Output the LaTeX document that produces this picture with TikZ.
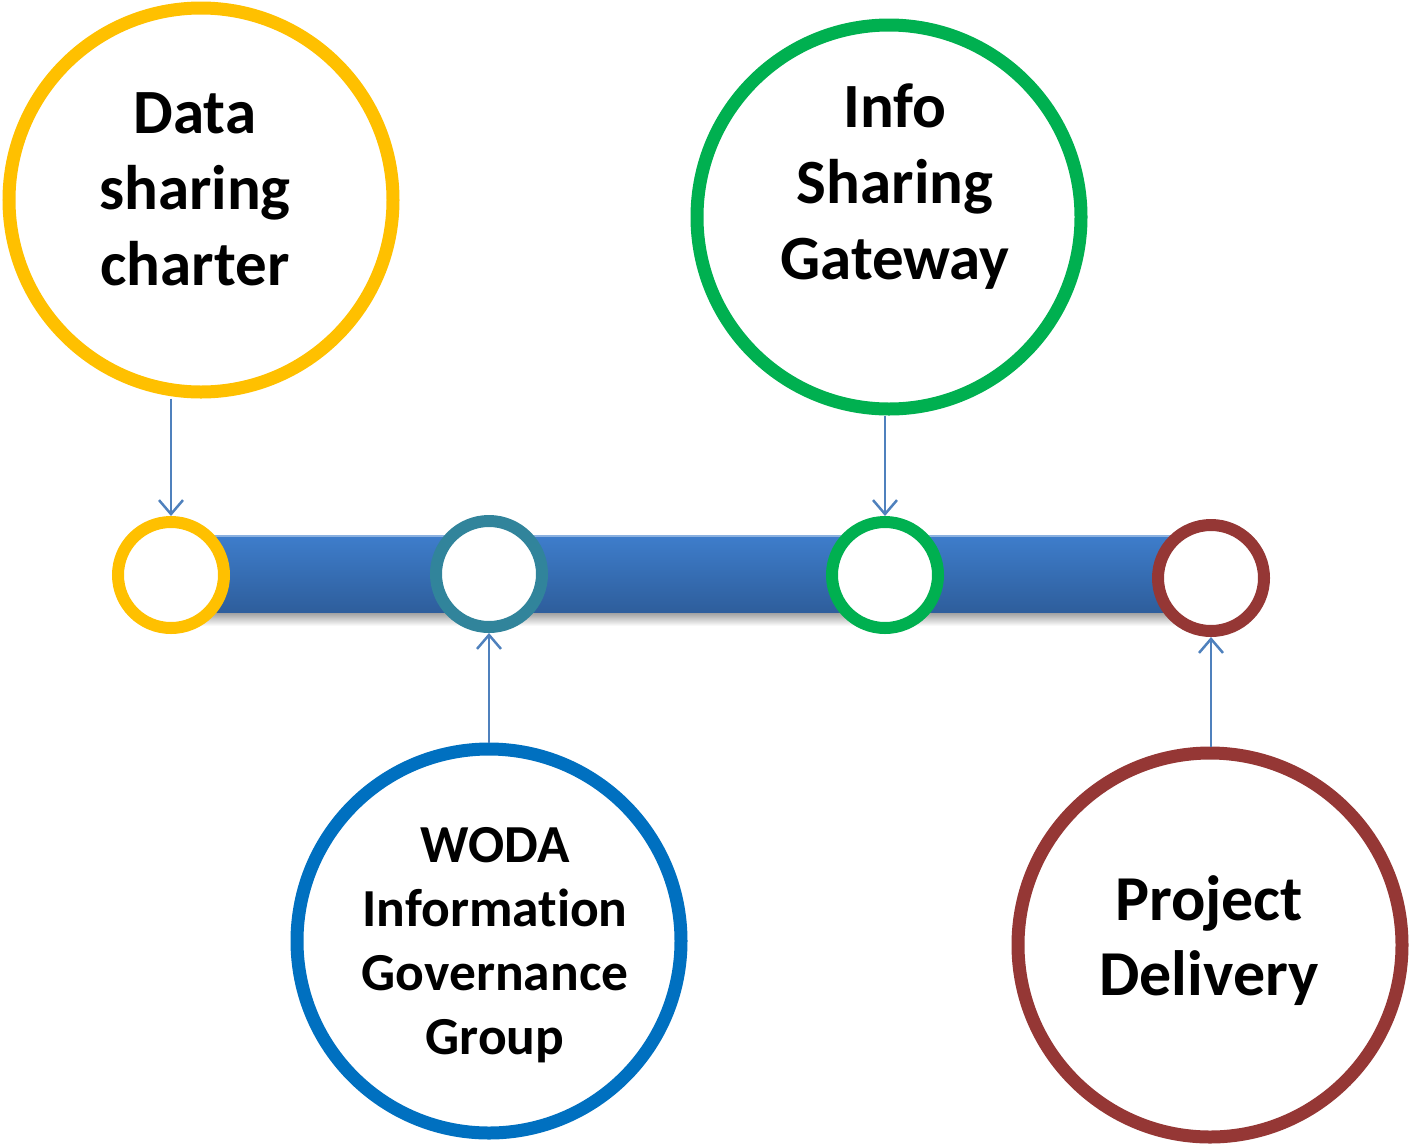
\documentclass[tikz,border=0pt]{standalone}
\usepackage{fontspec}
\setmainfont{Carlito}[Ligatures={NoCommon}]
\usetikzlibrary{arrows.meta}
\definecolor{cyellow}{HTML}{FFC000}
\definecolor{cgreen}{HTML}{00B050}
\definecolor{cblue}{HTML}{0070C0}
\definecolor{cred}{HTML}{953735}
\definecolor{cteal}{HTML}{31849B}
\definecolor{carrow}{HTML}{4F81BD}
\definecolor{bartop}{HTML}{3E7DCB}
\definecolor{barbot}{HTML}{2E5E9C}
\begin{document}
\begin{tikzpicture}[x=1pt,y=-1pt,
  bigc/.style={circle,draw,line width=13pt,fill=white,minimum size=384pt,inner sep=0pt},
  smallc/.style={circle,draw,line width=12pt,fill=white,minimum size=106pt,inner sep=0pt},
  lbl/.style={align=center,font=\fontsize{63}{76}\selectfont\bfseries},
  arr/.style={draw=carrow,line width=2.5pt,-{Straight Barb[length=14pt,width=24pt,line width=2.5pt]}}]
\useasboundingbox (0,0) rectangle (1410,1144);
% bar shadow and bar
\fill[top color=black!45,bottom color=white] (200,610) rectangle (1180,626);
\fill[top color=bartop,bottom color=barbot] (200,536) rectangle (1180,612);
\fill[bartop!60!white] (200,535) rectangle (1180,537);
% small circles
\node[smallc,draw=cyellow] (s1) at (171,575) {};
\node[smallc,draw=cteal] (s2) at (489,574) {};
\node[smallc,draw=cgreen] (s3) at (885,575) {};
\node[smallc,draw=cred] (s4) at (1211,578) {};
% big circles
\node[bigc,draw=cyellow] (b1) at (201,200) {};
\node[bigc,draw=cgreen] (b2) at (889,217) {};
\node[bigc,draw=cblue] (b3) at (489,941) {};
\node[bigc,draw=cred] (b4) at (1210,945) {};
% texts
\node[lbl] (t1) at (195,189) {Data\\sharing\\charter};
\node[lbl] (t2) at (895,187) {Info\\Sharing\\Gateway};
\node[lbl,font=\fontsize{53.5}{64}\selectfont\bfseries] (t3) at (495,945) {WODA\\Information\\Governance\\Group};
\node[lbl,font=\fontsize{64}{75}\selectfont\bfseries] (t4) at (1209,941) {Project\\Delivery};
% arrows
\draw[arr] (b1.south -| s1.north) -- (s1.north);
\draw[arr] (b2.south -| s3.north) -- (s3.north);
\draw[arr] (b3.north) -- (s2.south);
\draw[arr] (b4.north -| s4.south) -- (s4.south);
\end{tikzpicture}
\end{document}
